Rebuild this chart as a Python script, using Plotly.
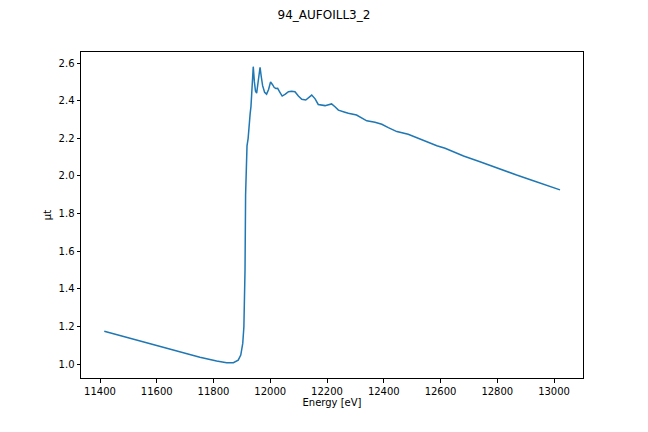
"""Recreation of the 94_AUFOILL3_2 absorption spectrum plot."""

import plotly.graph_objects as go

energy = [
    11415, 11506, 11576, 11635, 11694, 11752, 11811, 11846, 11870, 11887,
    11896, 11903, 11907, 11911, 11913, 11915, 11918, 11922, 11925, 11929,
    11932, 11936, 11940, 11944, 11948, 11952, 11956, 11960, 11964, 11968,
    11973, 11980, 11987, 11994, 12001, 12008, 12014, 12020, 12026, 12034,
    12042, 12053, 12064, 12075, 12087, 12099, 12111, 12125, 12135, 12146,
    12158, 12169, 12193, 12216, 12228, 12240, 12263, 12275, 12304, 12322,
    12340, 12369, 12393, 12416, 12446, 12486, 12510, 12545, 12587, 12616,
    12663, 12681, 12739, 12810, 12868, 12927, 12986, 13021,
]
mu_t = [
    1.175, 1.137, 1.110, 1.087, 1.060, 1.036, 1.016, 1.007, 1.007, 1.021,
    1.048, 1.110, 1.198, 1.500, 1.900, 2.100, 2.160, 2.200, 2.290, 2.330,
    2.370, 2.450, 2.581, 2.500, 2.450, 2.440, 2.490, 2.560, 2.578, 2.530,
    2.480, 2.445, 2.435, 2.460, 2.500, 2.485, 2.470, 2.465, 2.466, 2.445,
    2.425, 2.435, 2.448, 2.450, 2.448, 2.425, 2.408, 2.404, 2.415, 2.430,
    2.410, 2.380, 2.374, 2.383, 2.368, 2.350, 2.339, 2.333, 2.324, 2.310,
    2.293, 2.286, 2.275, 2.257, 2.236, 2.222, 2.207, 2.183, 2.161, 2.147,
    2.118, 2.106, 2.076, 2.036, 2.005, 1.975, 1.943, 1.926,
]

x_ticks = [11400, 11600, 11800, 12000, 12200, 12400, 12600, 12800, 13000]
y_ticks = [1.0, 1.2, 1.4, 1.6, 1.8, 2.0, 2.2, 2.4, 2.6]

fig = go.Figure()
fig.add_trace(go.Scatter(
    x=energy, y=mu_t, mode="lines",
    line=dict(color="#1f77b4", width=1.5),
    showlegend=False,
))

axis_style = dict(
    showline=True, linecolor="black", linewidth=1, mirror=True,
    ticks="outside", ticklen=3.5, tickcolor="black", tickwidth=1,
    showgrid=False, zeroline=False, automargin=False,
    tickfont=dict(size=10, color="black"),
)

# the page body adds an 8px offset, so margins are shifted to compensate
fig.update_layout(
    width=648, height=432,
    paper_bgcolor="white", plot_bgcolor="white",
    font=dict(family="DejaVu Sans", size=10, color="black"),
    margin=dict(l=73, r=73, t=44, b=62),
    title=dict(text="94_AUFOILL3_2", x=(324 - 8) / 648, xref="container", xanchor="center",
               y=1 - 7 / 432, yref="container", yanchor="middle",
               font=dict(size=12, color="black")),
)
fig.update_xaxes(axis_style, range=[11333, 13102], tickvals=x_ticks,
                 ticktext=[str(v) for v in x_ticks],
                 title=dict(text="Energy [eV]", standoff=2, font=dict(size=10)))
fig.update_yaxes(axis_style, range=[0.926, 2.659], tickvals=y_ticks,
                 ticktext=[f"{v:.1f}" for v in y_ticks],
                 title=dict(text="μt", standoff=5, font=dict(size=10)))

fig.write_html("out.html")
